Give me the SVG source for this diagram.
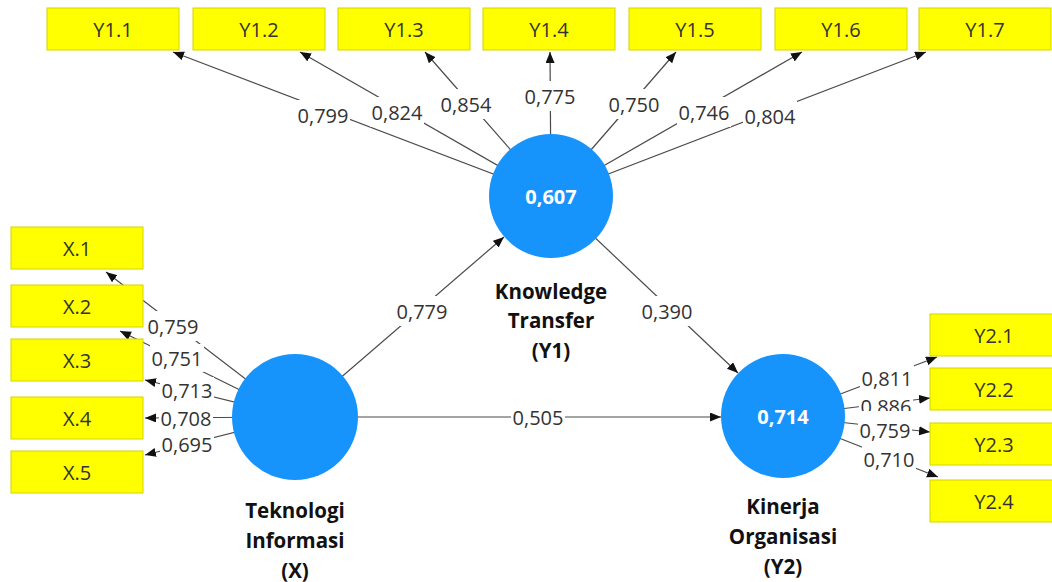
<svg xmlns="http://www.w3.org/2000/svg" width="1052" height="582" viewBox="0 0 1052 582">
<style>
.box{fill:#ffff00;stroke:#d4d400;stroke-width:1}
.bt{font-family:"Open Sans","Noto Sans",sans-serif;font-size:20px;fill:#333;text-anchor:middle;dominant-baseline:central}
.lv{fill:#1794fc}
.lvv{font-family:"Open Sans","Noto Sans",sans-serif;font-size:20px;font-weight:bold;fill:#fff;text-anchor:middle;dominant-baseline:central}
.nm{font-family:"Open Sans","Noto Sans",sans-serif;font-size:20.5px;font-weight:bold;fill:#111;text-anchor:middle}
.ln{stroke:#4a4a4a;stroke-width:1.2;fill:none;marker-end:url(#ah)}
.lb{font-family:"Open Sans","Noto Sans",sans-serif;font-size:20px;fill:#333;text-anchor:middle;dominant-baseline:central}
.bg{fill:#fff}
</style>
<defs>
<marker id="ah" markerUnits="userSpaceOnUse" markerWidth="12" markerHeight="10" refX="11" refY="4.5" orient="auto"><path d="M0,0 L11,4.5 L0,9 z" fill="#111"/></marker>
</defs>
<rect width="1052" height="582" fill="#fff"/>
<g id="connectors">
<line class="ln" x1="551" y1="196" x2="173" y2="52"/>
<line class="ln" x1="551" y1="196" x2="300" y2="52"/>
<line class="ln" x1="551" y1="196" x2="425" y2="52"/>
<line class="ln" x1="551" y1="196" x2="550" y2="52"/>
<line class="ln" x1="551" y1="196" x2="676" y2="52"/>
<line class="ln" x1="551" y1="196" x2="802" y2="52"/>
<line class="ln" x1="551" y1="196" x2="926" y2="52"/>
<line class="ln" x1="295" y1="417" x2="106" y2="272"/>
<line class="ln" x1="295" y1="417" x2="120" y2="331"/>
<line class="ln" x1="295" y1="417" x2="145" y2="380"/>
<line class="ln" x1="295" y1="417" x2="145" y2="418"/>
<line class="ln" x1="295" y1="417" x2="145" y2="455"/>
<line class="ln" x1="783" y1="416" x2="937" y2="357"/>
<line class="ln" x1="783" y1="416" x2="930" y2="398"/>
<line class="ln" x1="783" y1="416" x2="930" y2="432"/>
<line class="ln" x1="783" y1="416" x2="938" y2="477"/>
<line class="ln" x1="295" y1="417" x2="504" y2="237"/>
<line class="ln" x1="551" y1="196" x2="738" y2="373"/>
<line class="ln" x1="295" y1="417" x2="721" y2="417"/>
</g>
<g id="labels">
<rect class="bg" x="296" y="100" width="54" height="30"/><text class="lb" x="323" y="115">0,799</text>
<rect class="bg" x="370" y="97" width="54" height="30"/><text class="lb" x="397" y="112">0,824</text>
<rect class="bg" x="439" y="89" width="54" height="30"/><text class="lb" x="466" y="104">0,854</text>
<rect class="bg" x="523" y="81" width="54" height="30"/><text class="lb" x="550" y="96">0,775</text>
<rect class="bg" x="607" y="89" width="54" height="30"/><text class="lb" x="634" y="104">0,750</text>
<rect class="bg" x="677" y="97" width="54" height="30"/><text class="lb" x="704" y="112">0,746</text>
<rect class="bg" x="743" y="101" width="54" height="30"/><text class="lb" x="770" y="116">0,804</text>
<rect class="bg" x="146" y="311" width="54" height="30"/><text class="lb" x="173" y="326">0,759</text>
<rect class="bg" x="150" y="344" width="54" height="28"/><text class="lb" x="177" y="358">0,751</text>
<rect class="bg" x="160" y="377" width="54" height="26"/><text class="lb" x="187" y="390">0,713</text>
<rect class="bg" x="159" y="406" width="54" height="24"/><text class="lb" x="186" y="418">0,708</text>
<rect class="bg" x="160" y="432" width="54" height="24"/><text class="lb" x="187" y="444">0,695</text>
<rect class="bg" x="860" y="365" width="54" height="26"/><text class="lb" x="887" y="378">0,811</text>
<rect class="bg" x="859" y="393" width="54" height="24"/><text class="lb" x="886" y="406">0,886</text>
<rect class="bg" x="858" y="411" width="54" height="32"/><text class="lb" x="885" y="430">0,759</text>
<rect class="bg" x="862" y="446" width="54" height="26"/><text class="lb" x="889" y="459">0,710</text>
<rect class="bg" x="395" y="296" width="54" height="30"/><text class="lb" x="422" y="311">0,779</text>
<rect class="bg" x="640" y="296" width="54" height="30"/><text class="lb" x="667" y="311">0,390</text>
<rect class="bg" x="511" y="404" width="54" height="26"/><text class="lb" x="538" y="417">0,505</text>
</g>
<g id="indicators-y1">
<g id="Y1.1"><rect class="box" x="47" y="8" width="132" height="42"/><text class="bt" x="113" y="29">Y1.1</text></g>
<g id="Y1.2"><rect class="box" x="193" y="8" width="132" height="42"/><text class="bt" x="259" y="29">Y1.2</text></g>
<g id="Y1.3"><rect class="box" x="338" y="8" width="132" height="42"/><text class="bt" x="404" y="29">Y1.3</text></g>
<g id="Y1.4"><rect class="box" x="483" y="8" width="132" height="42"/><text class="bt" x="549" y="29">Y1.4</text></g>
<g id="Y1.5"><rect class="box" x="629" y="8" width="132" height="42"/><text class="bt" x="695" y="29">Y1.5</text></g>
<g id="Y1.6"><rect class="box" x="775" y="8" width="132" height="42"/><text class="bt" x="841" y="29">Y1.6</text></g>
<g id="Y1.7"><rect class="box" x="919" y="8" width="132" height="42"/><text class="bt" x="985" y="29">Y1.7</text></g>
</g>
<g id="indicators-x">
<g id="X.1"><rect class="box" x="11" y="227" width="132" height="42"/><text class="bt" x="77" y="248">X.1</text></g>
<g id="X.2"><rect class="box" x="11" y="285" width="132" height="42"/><text class="bt" x="77" y="306">X.2</text></g>
<g id="X.3"><rect class="box" x="11" y="339" width="132" height="42"/><text class="bt" x="77" y="360">X.3</text></g>
<g id="X.4"><rect class="box" x="11" y="397" width="132" height="42"/><text class="bt" x="77" y="418">X.4</text></g>
<g id="X.5"><rect class="box" x="11" y="451" width="132" height="42"/><text class="bt" x="77" y="472">X.5</text></g>
</g>
<g id="indicators-y2">
<g id="Y2.1"><rect class="box" x="930" y="314" width="132" height="42"/><text class="bt" x="994" y="335">Y2.1</text></g>
<g id="Y2.2"><rect class="box" x="930" y="368" width="132" height="42"/><text class="bt" x="994" y="389">Y2.2</text></g>
<g id="Y2.3"><rect class="box" x="930" y="423" width="132" height="42"/><text class="bt" x="994" y="444">Y2.3</text></g>
<g id="Y2.4"><rect class="box" x="930" y="480" width="132" height="42"/><text class="bt" x="994" y="501">Y2.4</text></g>
</g>
<g id="Y1">
<circle class="lv" cx="551" cy="196" r="62"/>
<text class="lvv" x="551" y="196">0,607</text>
<text class="nm" x="551" y="299">Knowledge</text>
<text class="nm" x="551" y="328">Transfer</text>
<text class="nm" x="551" y="358">(Y1)</text>
</g>
<g id="X">
<circle class="lv" cx="295" cy="417" r="63"/>
<text class="nm" x="295" y="518">Teknologi</text>
<text class="nm" x="295" y="548">Informasi</text>
<text class="nm" x="295" y="578">(X)</text>
</g>
<g id="Y2">
<circle class="lv" cx="783" cy="416" r="62"/>
<text class="lvv" x="783" y="416">0,714</text>
<text class="nm" x="783" y="514">Kinerja</text>
<text class="nm" x="783" y="544">Organisasi</text>
<text class="nm" x="783" y="574">(Y2)</text>
</g>
</svg>
